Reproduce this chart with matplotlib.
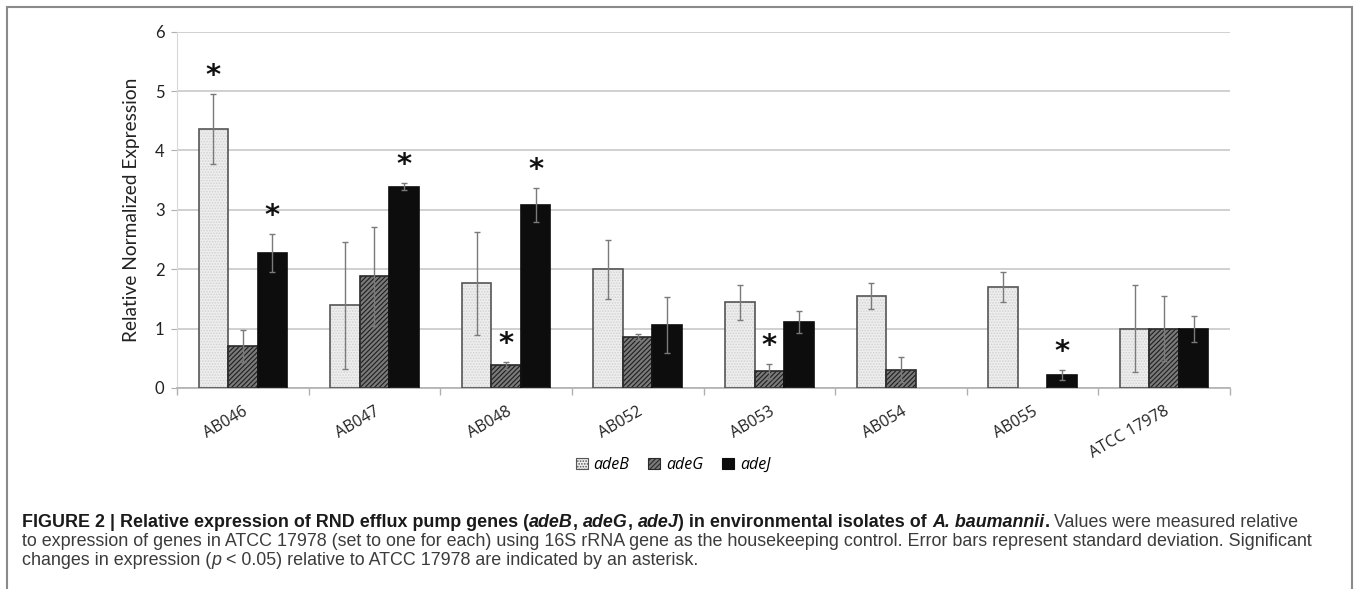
import matplotlib
matplotlib.use('Agg')
import matplotlib.pyplot as plt
import numpy as np
from matplotlib.patches import Patch, Rectangle

plt.rcParams.update({
    'font.family': ['Lato', 'DejaVu Sans'],
    'hatch.linewidth': 0.8,
})

# ── data ─────────────────────────────────────────────────────────────────
isolates = ['AB046', 'AB047', 'AB048', 'AB052', 'AB053', 'AB054', 'AB055', 'ATCC 17978']
genes = ['adeB', 'adeG', 'adeJ']

adeB_mean = [4.36, 1.39, 1.76, 2.00, 1.44, 1.55, 1.70, 1.00]
adeB_sd = [0.59, 1.07, 0.87, 0.50, 0.29, 0.22, 0.26, 0.73]
adeG_mean = [0.70, 1.88, 0.38, 0.86, 0.28, 0.31, 0.00, 1.00]
adeG_sd = [0.27, 0.83, 0.06, 0.05, 0.13, 0.21, 0.00, 0.55]
adeJ_mean = [2.28, 3.39, 3.08, 1.06, 1.11, 0.00, 0.22, 1.00]
adeJ_sd = [0.32, 0.06, 0.29, 0.47, 0.19, 0.00, 0.08, 0.22]

# significant vs ATCC 17978 (asterisk)
adeB_sig = [1, 0, 0, 0, 0, 0, 0, 0]
adeG_sig = [0, 0, 1, 0, 1, 0, 0, 0]
adeJ_sig = [1, 1, 1, 0, 0, 0, 1, 0]

W, H = 1357, 589
fig = plt.figure(figsize=(W / 100, H / 100), dpi=100)
fig.patches.append(Rectangle((7 / W, -0.05), (1352 - 7) / W, 1.05 - 7 / H,
                             transform=fig.transFigure, fill=False,
                             edgecolor='#8a8a8a', lw=1.5))

ax = fig.add_axes([177 / W, 1 - 388 / H, (1230 - 177) / W, (388 - 31.7) / H])

styles = [
    dict(face='#eeeeee', hatch='......', hcol='#d2d2d2', edge='#555555'),
    dict(face='#7a7a7a', hatch='///////', hcol='#1e1e1e', edge='#2a2a2a'),
    dict(face='#0d0d0d', hatch=None, hcol='#0d0d0d', edge='#0d0d0d'),
]
means = [adeB_mean, adeG_mean, adeJ_mean]
sds = [adeB_sd, adeG_sd, adeJ_sd]
sigs = [adeB_sig, adeG_sig, adeJ_sig]

x = np.arange(len(isolates))
bw = 0.224
for k in range(3):
    st = styles[k]
    pos = x + (k - 1) * bw
    m = np.array(means[k])
    s = np.array(sds[k])
    show = m > 0
    # texture layer, then outline
    ax.bar(pos[show], m[show], bw, color=st['face'], hatch=st['hatch'],
           edgecolor=st['hcol'], lw=0, zorder=2)
    ax.bar(pos[show], m[show], bw, fill=False, edgecolor=st['edge'], lw=1.2, zorder=3)
    ax.errorbar(pos[show], m[show], yerr=s[show], fmt='none', ecolor='#7a7a7a',
                elinewidth=1.0, capsize=2.2, capthick=1.0, zorder=4)
    for i in range(len(isolates)):
        if sigs[k][i]:
            ax.text(pos[i], m[i] + s[i] + 0.3, '*', ha='center', va='center',
                    fontsize=21, fontweight='bold', family='DejaVu Sans',
                    color='#111111', zorder=5)

ax.set_xlim(-0.5, len(isolates) - 0.5)
ax.set_ylim(0, 6)
ax.set_yticks(range(7))
ax.yaxis.grid(True, color='#c8c8c8', lw=1.2)
ax.set_axisbelow(True)
for sp in ['top', 'right']:
    ax.spines[sp].set_visible(False)
ax.spines['left'].set_color('#d8d8d8')
ax.spines['bottom'].set_color('#b0b0b0')
ax.spines['bottom'].set_linewidth(1.2)
ax.tick_params(axis='y', length=4, color='#b0b0b0', labelsize=12,
               labelcolor='#222222', pad=5)
ax.set_xticks(x)
ax.set_xticklabels(isolates, rotation=30, ha='right', rotation_mode='anchor',
                   fontsize=11.5, color='#222222', family=['Open Sans', 'DejaVu Sans'])
ax.tick_params(axis='x', length=0, pad=11)
ax.set_xticks(np.arange(len(isolates) + 1) - 0.5, minor=True)
ax.tick_params(axis='x', which='minor', length=5, color='#b0b0b0', width=1)
ax.set_ylabel('Relative Normalized Expression', fontsize=13.8, color='#222222', labelpad=11)

handles = [Patch(facecolor=st['face'], hatch=st['hatch'], edgecolor=st['edge'], lw=0.8)
           for st in styles]
fig.legend(handles, genes, loc='center', bbox_to_anchor=(673 / W, 1 - 465 / H),
           ncol=3, frameon=False, handlelength=0.75, handleheight=0.75,
           handletextpad=0.35, columnspacing=1.2,
           prop=dict(style='italic', size=11.5, family='Open Sans'))

# ── caption ──────────────────────────────────────────────────────────────
renderer = fig.canvas.get_renderer()
cap_font = ['Liberation Sans', 'DejaVu Sans']


def rich_line(x0, y0, parts, size=12.9):
    xx = x0
    for txt, weight, style, col in parts:
        t = fig.text(xx, y0, txt, fontsize=size, fontweight=weight, fontstyle=style,
                     color=col, family=cap_font, va='baseline', ha='left')
        bb = t.get_window_extent(renderer)
        xx = bb.x1 / W


B, N = 'bold', 'normal'
I, R = 'italic', 'normal'
dk, gr = '#1a1a1a', '#3c3c3c'
rich_line(22 / W, 1 - 527 / H, [
    ('FIGURE 2 | Relative expression of RND efflux pump genes (', B, R, dk),
    ('adeB', B, I, dk), (', ', B, R, dk), ('adeG', B, I, dk), (', ', B, R, dk),
    ('adeJ', B, I, dk), (') in environmental isolates of ', B, R, dk),
    ('A. baumannii', B, I, dk), ('.', B, R, dk),
    (' Values were measured relative', N, R, gr),
])
rich_line(22 / W, 1 - 546 / H, [
    ('to expression of genes in ATCC 17978 (set to one for each) using 16S rRNA gene '
     'as the housekeeping control. Error bars represent standard deviation. Significant',
     N, R, gr),
])
rich_line(22 / W, 1 - 565 / H, [
    ('changes in expression (', N, R, gr), ('p', N, I, gr),
    (' < 0.05) relative to ATCC 17978 are indicated by an asterisk.', N, R, gr),
])

fig.savefig('out.png', dpi=100)
